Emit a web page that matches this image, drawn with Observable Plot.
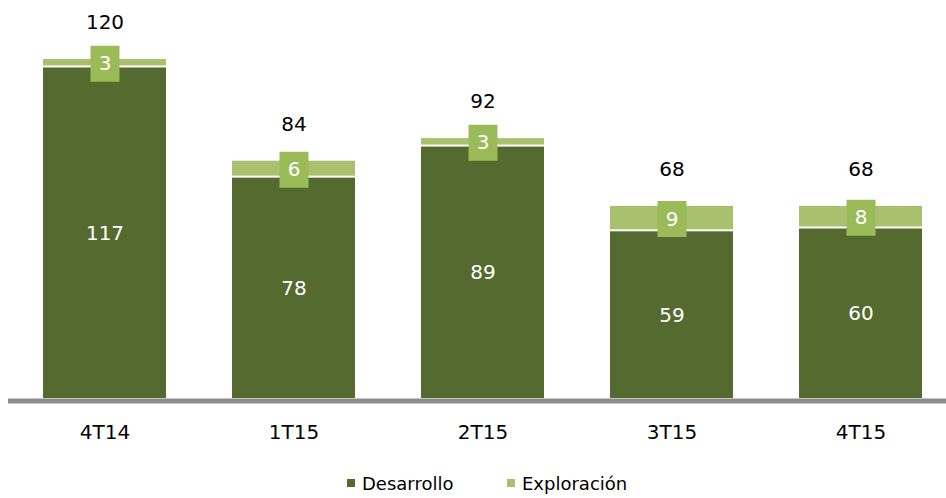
<!DOCTYPE html>
<html>
<head>
<meta charset="utf-8">
<script src="https://cdn.jsdelivr.net/npm/d3@7"></script>
<script src="https://cdn.jsdelivr.net/npm/@observablehq/plot@0.6"></script>
<style>
  html, body { margin: 0; padding: 0; background: #fff; }
  #chart { position: relative; width: 946px; height: 498px; font-family: "DejaVu Sans", sans-serif; }
  .legend { position: absolute; top: 471px; left: 0; width: 946px; height: 24px; font-size: 18px; color: #000; }
  .legend .item { position: absolute; top: 0; display: flex; align-items: center; height: 24px; }
  .legend .sw { width: 8px; height: 8px; margin-right: 7px; }
</style>
</head>
<body>
<div id="chart"></div>
<script>
const categories = ["4T14", "1T15", "2T15", "3T15", "4T15"];
const desarrollo = [117, 78, 89, 59, 60];
const exploracion = [3, 6, 3, 9, 8];
const totals = [120, 84, 92, 68, 68];
const seriesNames = ["Desarrollo", "Exploración"];
const seriesColors = ["#556A2F", "#A9C06E"];
const boxColor = "#9BBB59";

const boxSymbol = { draw(ctx) { ctx.rect(-14.5, -18, 29, 36); } };

const plot = Plot.plot({
  width: 946,
  height: 460,
  marginLeft: 8,
  marginRight: 0,
  marginTop: 0,
  marginBottom: 62,
  style: { fontFamily: "DejaVu Sans, sans-serif", fontSize: "20px", background: "transparent" },
  x: { domain: categories, range: [8, 958], paddingInner: 0.347, paddingOuter: 0.1737, label: null },
  y: { domain: [0, 120], range: [398, 59], axis: null },
  marks: [
    Plot.barY(categories, { x: d => d, y1: 0, y2: (d, i) => desarrollo[i], fill: seriesColors[0] }),
    Plot.barY(categories, { x: d => d, y1: (d, i) => desarrollo[i], y2: (d, i) => desarrollo[i] + exploracion[i], fill: seriesColors[1], insetBottom: 2 }),
    Plot.ruleY([0], { stroke: "#8C8C8C", strokeWidth: 5, dy: 2.5 }),
    Plot.axisX({ tickSize: 0, tickPadding: 26, fontSize: 20, label: null, fill: "#000" }),
    Plot.text(categories, { x: d => d, y: (d, i) => desarrollo[i] / 2, text: (d, i) => String(desarrollo[i]), fill: "#fff", fontSize: 20 }),
    Plot.dot(categories, { x: d => d, y: (d, i) => desarrollo[i] + exploracion[i] / 2, symbol: boxSymbol, fill: boxColor, stroke: null }),
    Plot.text(categories, { x: d => d, y: (d, i) => desarrollo[i] + exploracion[i] / 2, text: (d, i) => String(exploracion[i]), fill: "#fff", fontSize: 20 }),
    Plot.text(categories, { x: d => d, y: (d, i) => totals[i], text: (d, i) => String(totals[i]), dy: -37, fill: "#000", fontSize: 20 })
  ]
});

const chart = document.getElementById("chart");
chart.appendChild(plot);

const legend = document.createElement("div");
legend.className = "legend";
const lefts = [347, 507];
seriesNames.forEach((name, i) => {
  const item = document.createElement("div");
  item.className = "item";
  item.style.left = lefts[i] + "px";
  const sw = document.createElement("span");
  sw.className = "sw";
  sw.style.background = seriesColors[i];
  const label = document.createElement("span");
  label.textContent = name;
  item.appendChild(sw);
  item.appendChild(label);
  legend.appendChild(item);
});
chart.appendChild(legend);
</script>
</body>
</html>
